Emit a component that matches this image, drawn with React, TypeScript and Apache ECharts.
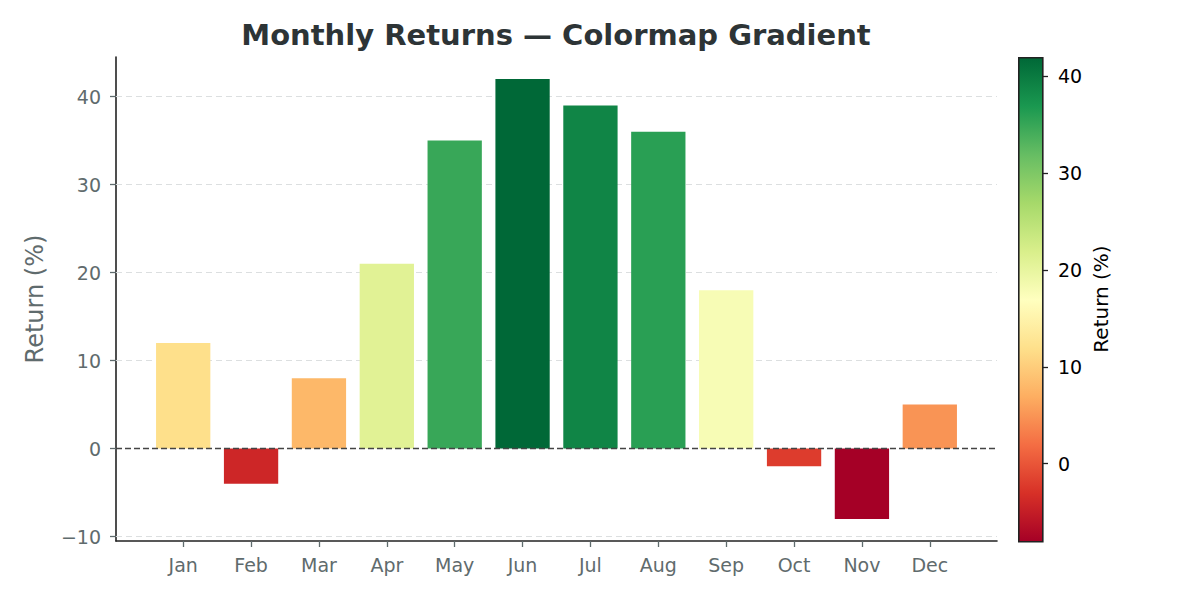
import React, { useEffect, useRef } from "react";
import * as echarts from "echarts";

const months = ["Jan", "Feb", "Mar", "Apr", "May", "Jun", "Jul", "Aug", "Sep", "Oct", "Nov", "Dec"];
const returns = [12, -4, 8, 21, 35, 42, 39, 36, 18, -2, -8, 5];
const yTicks = [-10, 0, 10, 20, 30, 40];
const cbTicks = [0, 10, 20, 30, 40];
const rdYlGn = ["#a50026", "#d73027", "#f46d43", "#fdae61", "#fee08b", "#ffffbf", "#d9ef8b", "#a6d96a", "#66bd63", "#1a9850", "#006837"];

const FONT = "DejaVu Sans";
const GRAY = "#5f6b6d";

export default function App() {
  const ref = useRef<HTMLDivElement>(null);
  useEffect(() => {
    if (!ref.current) return;
    const chart = echarts.init(ref.current, undefined, { renderer: "svg" });
    const vmin = Math.min(...returns);
    const vmax = Math.max(...returns);
    const gridLeft = 116, gridRight = 203, gridTop = 57, gridBottom = 59;
    const plotW = 1200 - gridLeft - gridRight;
    const xLo = -0.99, xHi = 11.99;
    const unitPx = plotW / (xHi - xLo);
    const cbLeft = 1018, cbTop = 57, cbW = 24, cbH = 484;
    const minus = (v: number) => String(v).replace("-", "\u2212");
    const stops = rdYlGn
      .map((c, i) => ({ offset: 1 - i / (rdYlGn.length - 1), color: c }))
      .reverse();
    chart.setOption({
      animation: false,
      backgroundColor: "#ffffff",
      textStyle: { fontFamily: FONT },
      title: {
        text: "Monthly Returns \u2014 Colormap Gradient",
        left: 551,
        textAlign: "center",
        top: 15,
        textStyle: { fontFamily: FONT, fontSize: 29, fontWeight: "bold", color: "#2d3436" },
      },
      grid: [
        { left: gridLeft, right: gridRight, top: gridTop, bottom: gridBottom, containLabel: false },
        { left: cbLeft, right: 1200 - cbLeft - cbW, top: cbTop, bottom: 600 - cbTop - cbH, containLabel: false },
      ],
      xAxis: [
        {
          type: "value",
          gridIndex: 0,
          min: xLo,
          max: xHi,
          splitLine: { show: false },
          axisLine: { show: true, onZero: false, lineStyle: { color: "#222", width: 1.6 } },
          axisTick: { show: true, customValues: months.map((_, i) => i), length: 6, lineStyle: { color: GRAY, width: 1.3 } },
          axisLabel: {
            customValues: months.map((_, i) => i),
            formatter: (v: number) => months[Math.round(v)] ?? "",
            color: GRAY,
            fontSize: 19,
            margin: 14,
            fontFamily: FONT,
          },
        },
        { type: "value", gridIndex: 1, show: false, min: 0, max: 1 },
      ],
      yAxis: [
        {
          type: "value",
          gridIndex: 0,
          min: -10.5,
          max: 44.5,
          name: "Return (%)",
          nameLocation: "middle",
          nameGap: 69,
          nameTextStyle: { color: GRAY, fontSize: 24, fontFamily: FONT },
          splitLine: { show: false },
          axisLine: { show: true, onZero: false, lineStyle: { color: "#222", width: 1.6 } },
          axisTick: { show: true, customValues: yTicks, length: 6, lineStyle: { color: GRAY, width: 1.3 } },
          axisLabel: { customValues: yTicks, formatter: (v: number) => minus(v), color: GRAY, fontSize: 19, margin: 15, fontFamily: FONT },
        },
        {
          type: "value",
          gridIndex: 1,
          position: "right",
          min: vmin,
          max: vmax,
          name: "Return (%)",
          nameLocation: "middle",
          nameGap: 49,
          nameRotate: 90,
          nameTextStyle: { color: "#000", fontSize: 20, fontFamily: FONT },
          splitLine: { show: false },
          axisLine: { show: false, onZero: false },
          axisTick: { show: true, customValues: cbTicks, length: 6, lineStyle: { color: "#222", width: 1.3 } },
          axisLabel: { customValues: cbTicks, formatter: (v: number) => minus(v), color: "#000", fontSize: 19, margin: 16, fontFamily: FONT },
        },
      ],
      visualMap: {
        type: "continuous",
        show: false,
        min: vmin,
        max: vmax,
        seriesIndex: 0,
        dimension: 1,
        inRange: { color: rdYlGn },
      },
      graphic: [
        {
          type: "rect",
          left: cbLeft,
          top: cbTop,
          shape: { width: cbW, height: cbH },
          style: {
            fill: new echarts.graphic.LinearGradient(0, 0, 0, 1, stops),
            stroke: "#222",
            lineWidth: 1.6,
          },
          z: 100,
          silent: true,
        },
      ],
      series: [
        {
          type: "bar",
          xAxisIndex: 0,
          yAxisIndex: 0,
          z: 3,
          data: returns.map((v, i) => [i, v]),
          barWidth: unitPx * 0.8,
          markLine: {
            silent: true,
            symbol: "none",
            z: 6,
            label: { show: false },
            data: [{ yAxis: 0, lineStyle: { color: "#444", type: [6, 3], width: 1.4 } }],
          },
        },
        {
          type: "line",
          xAxisIndex: 0,
          yAxisIndex: 0,
          z: 1,
          data: [],
          markLine: {
            silent: true,
            symbol: "none",
            z: 1,
            label: { show: false },
            data: yTicks
              .filter((t) => t !== 0)
              .map((t) => ({ yAxis: t, lineStyle: { color: "#dcdfe0", type: [6, 4], width: 1.2 } })),
          },
        },
      ],
    });
    return () => chart.dispose();
  }, []);
  return <div ref={ref} style={{ width: 1200, height: 600, margin: -8 }} />;
}
